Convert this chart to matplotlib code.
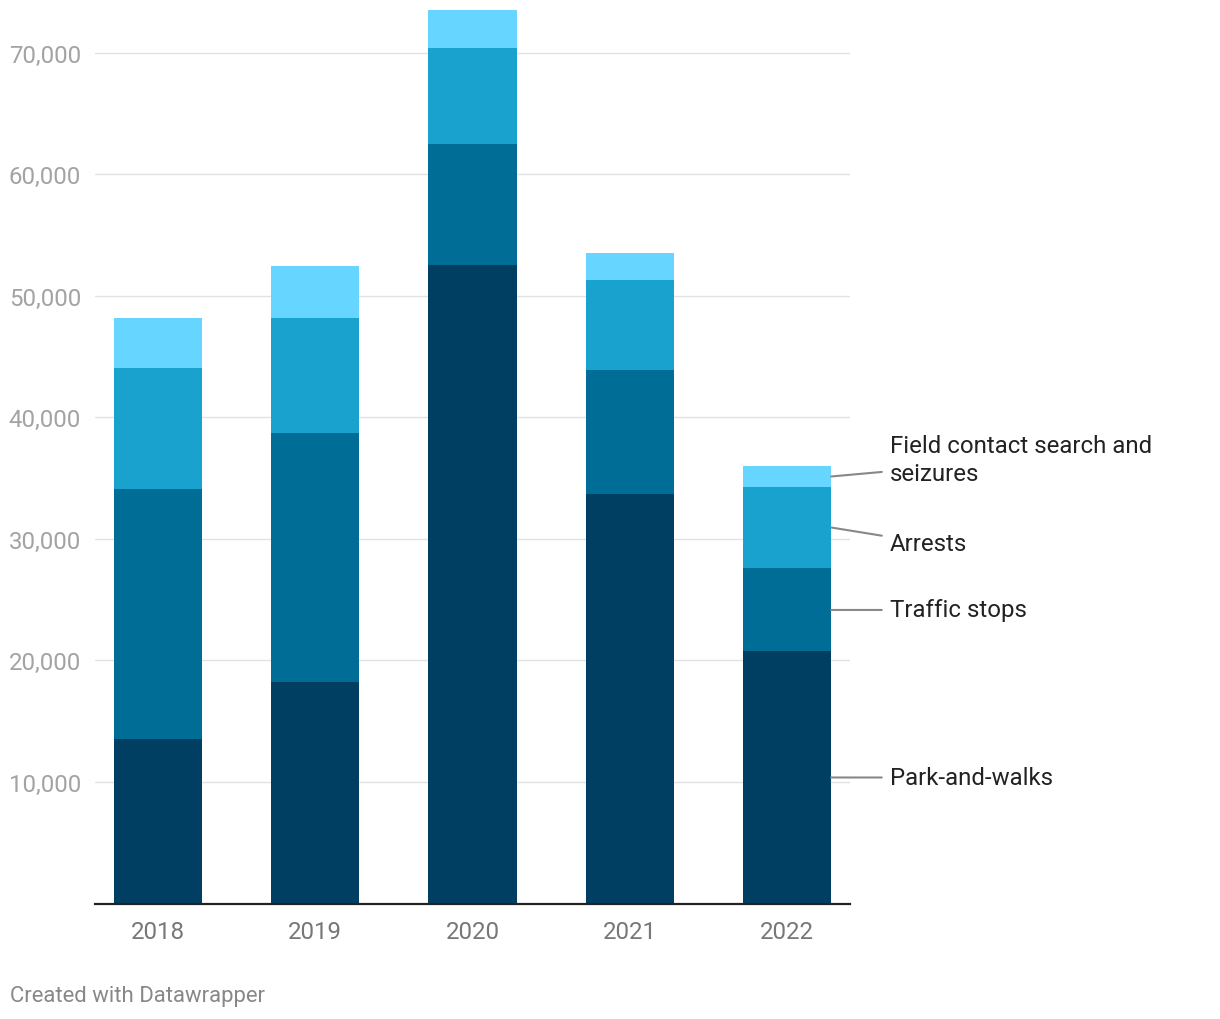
import matplotlib
matplotlib.use("Agg")
import matplotlib.pyplot as plt
import numpy as np

years = ["2018", "2019", "2020", "2021", "2022"]
park_and_walks = [13570, 18180, 52560, 33720, 20730]
traffic_stops = [20560, 20560, 9950, 10200, 6830]
arrests = [9950, 9460, 7820, 7400, 6740]
field_contact = [4110, 4280, 3130, 2220, 1650]
series_names = ["Park-and-walks", "Traffic stops", "Arrests", "Field contact search and\nseizures"]
colors = ["#003f62", "#006d96", "#1aa2cf", "#66d5ff"]
yticks = [10000, 20000, 30000, 40000, 50000, 60000, 70000]

plt.rcParams['font.family'] = ['Roboto', 'DejaVu Sans']

W, H = 1220, 1020
fig = plt.figure(figsize=(W / 100, H / 100), dpi=100)
ymax = 74000
base = 904.5
ax = fig.add_axes([95 / W, (H - base) / H, (850 - 95) / W, (ymax / 10000 * 121.57) / H])

x = np.arange(len(years))
series = [park_and_walks, traffic_stops, arrests, field_contact]
bottom = np.zeros(len(years))
for vals, c in zip(series, colors):
    ax.bar(x, vals, bottom=bottom, width=0.56, color=c, zorder=2)
    bottom += np.array(vals)

ax.set_xlim(-0.40, 4.40)
ax.set_ylim(0, ymax)
ax.set_yticks(yticks)
ax.set_yticklabels([f"{v:,}" for v in yticks])
ax.set_xticks(x)
ax.set_xticklabels(years)
ax.grid(axis='y', color='#e2e2e2', linewidth=1, zorder=0)
for s in ['top', 'right', 'left']:
    ax.spines[s].set_visible(False)
ax.spines['bottom'].set_color('#222222')
ax.spines['bottom'].set_linewidth(1.6)
ax.spines['bottom'].set_zorder(3)
ax.tick_params(axis='y', length=0, pad=10, labelsize=17.3, labelcolor='#a3a3a3')
ax.tick_params(axis='x', length=0, pad=12, labelsize=17.3, labelcolor='#777777')

# right-side labels
last = len(years) - 1
cum = np.zeros(len(years))
mids = []
for vals in series:
    mids.append(cum[last] + vals[last] / 2)
    cum += np.array(vals)
label_y = [mids[0], mids[1], mids[2] - 1300, mids[3] + 1400]
for name, my, ly in zip(series_names, mids, label_y):
    ax.annotate(name, xy=(last + 0.28, my), xytext=(last + 0.655, ly),
                textcoords='data', xycoords='data', annotation_clip=False,
                fontsize=17.3, color='#222222', va='center', ha='left',
                linespacing=1.3,
                arrowprops=dict(arrowstyle='-', color='#888888', lw=1.5,
                                shrinkA=4, shrinkB=0))

fig.text(10 / W, 1 - 997 / H, "Created with Datawrapper", fontsize=15.9,
         color='#888888', va='center', ha='left')

fig.savefig("out.png", dpi=100)
